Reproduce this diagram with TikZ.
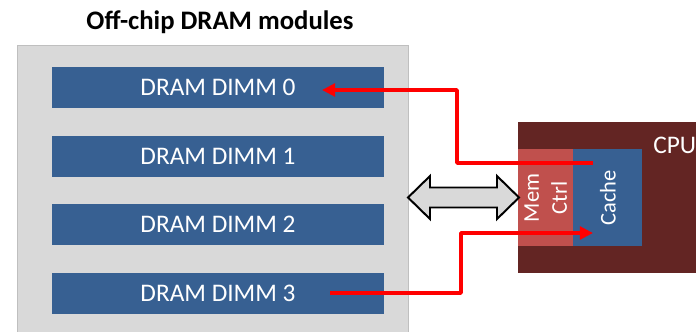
\documentclass[tikz,border=0pt]{standalone}
\usepackage{fontspec}
\setmainfont{Carlito}
\usetikzlibrary{arrows.meta}
\definecolor{dimmblue}{RGB}{55,96,146}
\definecolor{ctrlred}{RGB}{192,80,77}
\definecolor{cpured}{RGB}{99,37,35}
\definecolor{boxgray}{RGB}{217,217,217}
\begin{document}
\begin{tikzpicture}[x=.025cm,y=-.025cm,
  dimm/.style={fill=dimmblue,text=white,inner sep=0,minimum width=8.3cm,minimum height=1.025cm,font=\fontsize{18}{21}\selectfont},
  vert/.style={rotate=90,text=white,align=center,inner sep=0,font=\fontsize{16}{20}\selectfont},
  redline/.style={red,line width=2.6pt,line join=round,-{Triangle[length=.33cm,width=.32cm]}}]
\useasboundingbox (0,0) rectangle (696,331);
% memory side
\node[fill=boxgray,draw={rgb,255:red,191;green,191;blue,191},inner sep=0,minimum width=9.775cm,minimum height=7.5cm,anchor=north west] (dram) at (17,45){};
\node[font=\bfseries\fontsize{19}{22}\selectfont] (title) at (220,22){Off-chip DRAM modules};
\node[dimm] (d0) at (218,87.5){DRAM DIMM 0};
\node[dimm] (d1) at (218,156.5){DRAM DIMM 1};
\node[dimm] (d2) at (218,224.5){DRAM DIMM 2};
\node[dimm] (d3) at (218,293.5){DRAM DIMM 3};
% cpu side
\node[fill=cpured,inner sep=0,minimum width=5cm,minimum height=3.775cm,anchor=north west] (cpu) at (518,122){};
\node[text=white,anchor=west,inner sep=0,font=\fontsize{18}{21}\selectfont] (cpulbl) at (653,145){CPU};
\node[fill=ctrlred,inner sep=0,minimum width=1.375cm,minimum height=2.425cm,anchor=north west] (mc) at (518,149){};
\node[fill=dimmblue,inner sep=0,minimum width=1.725cm,minimum height=2.425cm,anchor=north west] (cache) at (573,149){};
\node[vert] (mclbl) at (mc){Mem\\Ctrl};
\node[vert] (cachelbl) at (cache){Cache};
% bus between modules and controller
\draw[fill=boxgray,line width=1.4pt,line join=miter] (408,197.5)--(430,176)--(430,187.5)--(497,187.5)--(497,176)--(519,197.5)
  --(497,219)--(497,207.5)--(430,207.5)--(430,219)--cycle;
% data paths
\coordinate (rd0) at (593,163); \coordinate (rd1) at (457,90); \coordinate (rd2) at (322,90);
\draw[redline] (rd0) -| (rd1) -- (rd2);
\coordinate (wr0) at (330,293); \coordinate (wr1) at (461,233); \coordinate (wr2) at (593,233);
\draw[redline] (wr0) -| (wr1) -- (wr2);
\end{tikzpicture}
\end{document}
